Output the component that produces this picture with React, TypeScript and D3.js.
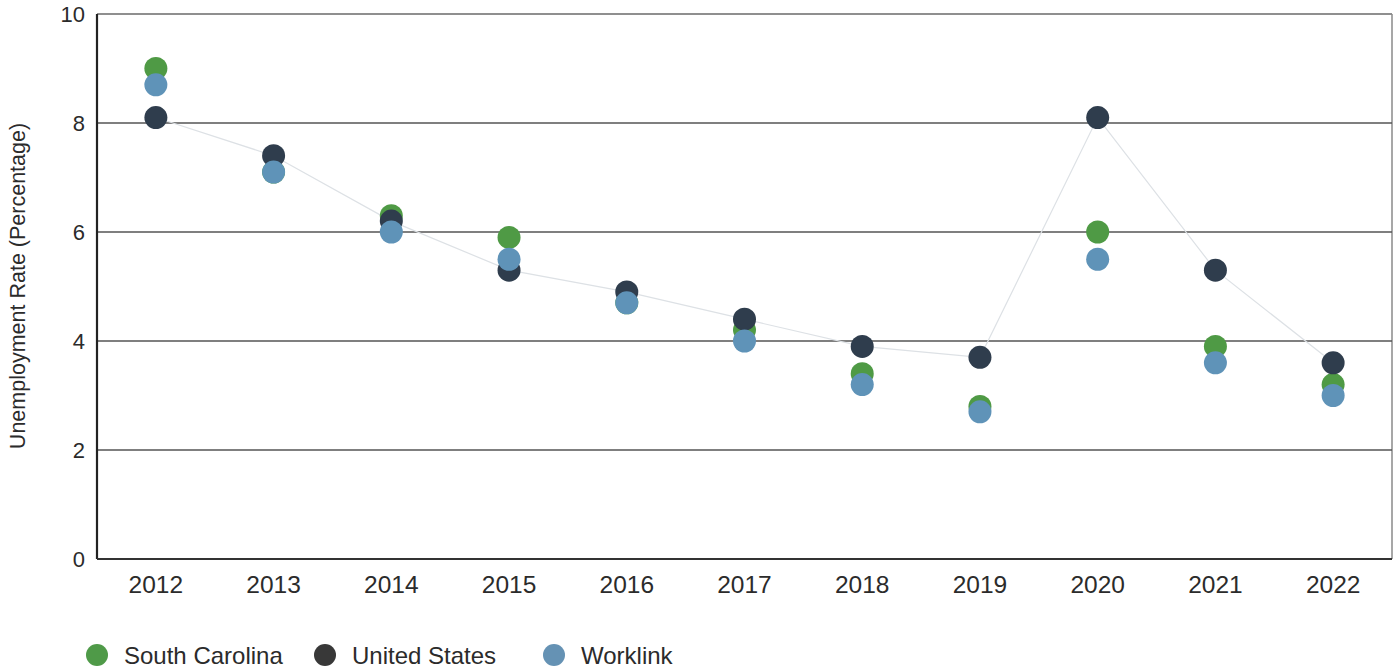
import React from "react";
import * as d3 from "d3";

const years = ["2012","2013","2014","2015","2016","2017","2018","2019","2020","2021","2022"];
const southCarolina = [9.0, 7.1, 6.3, 5.9, 4.7, 4.2, 3.4, 2.8, 6.0, 3.9, 3.2];
const unitedStates = [8.1, 7.4, 6.2, 5.3, 4.9, 4.4, 3.9, 3.7, 8.1, 5.3, 3.6];
const worklink = [8.7, 7.1, 6.0, 5.5, 4.7, 4.0, 3.2, 2.7, 5.5, 3.6, 3.0];
const yTicks = [0, 2, 4, 6, 8, 10];

const series = [
  { name: "South Carolina", values: southCarolina, color: "#4f9a45", legend: "#4f9a48" },
  { name: "United States", values: unitedStates, color: "#2f3d4d", legend: "#383838" },
  { name: "Worklink", values: worklink, color: "#5f93b8", legend: "#6592b4" },
];

const W = 1397, H = 671;
const left = 97, right = 1392, top = 14, bottom = 559;
const font = "Liberation Sans, Arial, sans-serif";

export default function App() {
  const x = d3.scaleBand().domain(years).range([left, right]).padding(0);
  const y = d3.scaleLinear().domain([0, 10]).range([bottom, top]);
  const cx = (yr: string) => (x(yr) ?? 0) + x.bandwidth() / 2;
  const usLine = d3.line<number>().x((_, i) => cx(years[i])).y((v) => y(v))(unitedStates) ?? "";
  const legendX = [97, 325, 554];

  return (
    <svg width={W} height={H} style={{ position: "absolute", left: 0, top: 0, background: "#fff" }}>
      <rect x={0} y={0} width={W} height={H} fill="#fff" />
      {/* frame */}
      <line x1={left} x2={right} y1={top} y2={top} stroke="#6a6a6a" strokeWidth={1.5} />
      <line x1={right} x2={right} y1={top} y2={bottom} stroke="#8a8a8a" strokeWidth={1.5} />
      {yTicks.filter((t) => t > 0 && t < 10).map((t) => (
        <line key={t} x1={left} x2={right} y1={y(t)} y2={y(t)} stroke="#555" strokeWidth={1.5} />
      ))}
      <line x1={left} x2={left} y1={top} y2={bottom} stroke="#222" strokeWidth={2.2} />
      <line x1={left} x2={right} y1={bottom} y2={bottom} stroke="#333" strokeWidth={2} />
      {yTicks.map((t) => (
        <text key={t} x={85} y={y(t)} dy="0.36em" textAnchor="end" fontFamily={font} fontSize={22} fill="#2b2b2b">{t}</text>
      ))}
      {years.map((yr) => (
        <text key={yr} x={cx(yr)} y={593} textAnchor="middle" fontFamily={font} fontSize={24.5} fill="#2b2b2b">{yr}</text>
      ))}
      <text transform={`translate(25, ${(120 + 452) / 2}) rotate(-90)`} textAnchor="middle" fontFamily={font} fontSize={21.5} fill="#2b2b2b">
        Unemployment Rate (Percentage)
      </text>
      <path d={usLine} fill="none" stroke="#dde1e5" strokeWidth={1.2} />
      {series.map((s) => (
        <g key={s.name}>
          {s.values.map((v, i) => (
            <circle key={i} cx={cx(years[i])} cy={y(v)} r={11.5} fill={s.color} />
          ))}
        </g>
      ))}
      {series.map((s, i) => (
        <g key={s.name}>
          <circle cx={legendX[i]} cy={655} r={11} fill={s.legend} />
          <text x={legendX[i] + 27} y={655} dy="0.36em" fontFamily={font} fontSize={24} fill="#2b2b2b">{s.name}</text>
        </g>
      ))}
    </svg>
  );
}
